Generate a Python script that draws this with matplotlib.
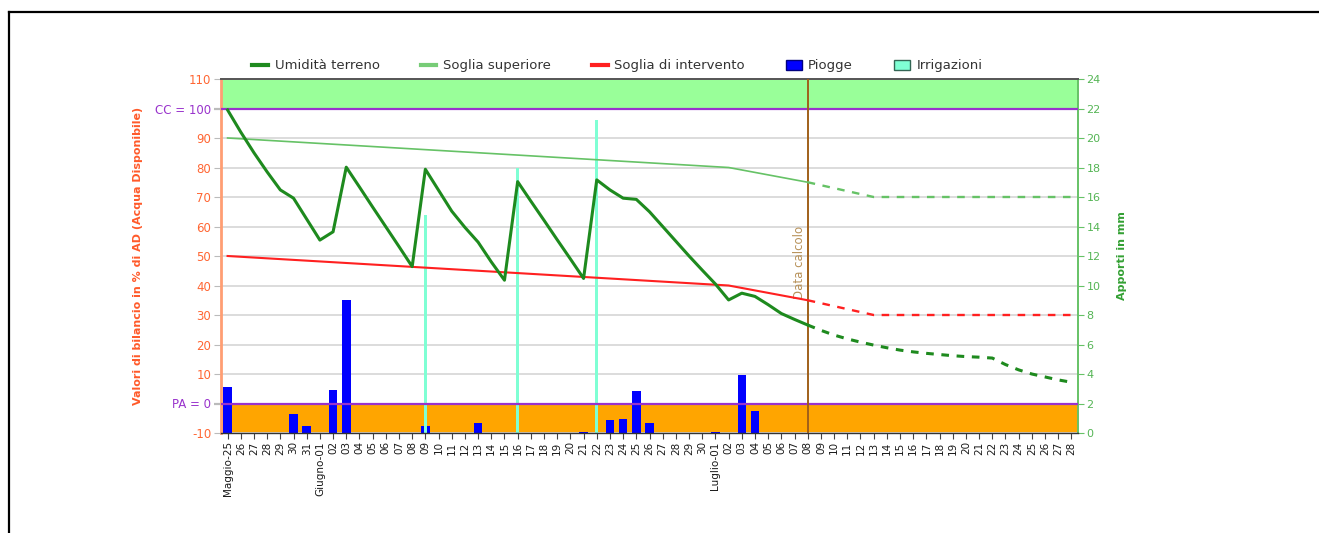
import matplotlib
matplotlib.use("Agg")
import matplotlib.pyplot as plt
from matplotlib.lines import Line2D
from matplotlib.patches import Patch, Rectangle
from matplotlib.transforms import blended_transform_factory

# ---------------- data ----------------
date_labels = ["Maggio-25", "26", "27", "28", "29", "30", "31",
               "Giugno-01", "02", "03", "04", "05", "06", "07", "08", "09", "10",
               "11", "12", "13", "14", "15", "16", "17", "18", "19", "20",
               "21", "22", "23", "24", "25", "26", "27", "28", "29", "30",
               "Luglio-01", "02", "03", "04", "05", "06", "07", "08", "09", "10",
               "11", "12", "13", "14", "15", "16", "17", "18", "19", "20",
               "21", "22", "23", "24", "25", "26", "27", "28"]

# soil moisture (% AD), observed up to "Data calcolo" then forecast
umidita = [99.5, 92, 85, 78.5, 72.4, 69.6, 62.5, 55.4, 58.2, 80.1,
           73.4, 66.6, 59.9, 53.2, 46.4, 79.4, 72.3, 65.2, 59.7, 54.7,
           48.0, 41.8, 75.2, 68.6, 62.1, 55.5, 49.0, 42.4, 75.8, 72.4,
           69.6, 69.2, 65.0, 60.0, 55.0, 50.0, 45.2, 40.5, 35.1, 37.4,
           36.3, 33.5, 30.5, 28.5, 26.6,
           24.8, 23.2, 21.9, 20.8, 19.8, 18.9, 18.1, 17.5, 17.0, 16.6,
           16.2, 15.9, 15.7, 15.4, 13.2, 11.4, 10.0, 9.0, 8.0, 7.2]

# thresholds: break-point day index and value
soglia_sup_day = [0, 38, 44, 49, 64]
soglia_sup_val = [90, 80, 75, 70, 70]
soglia_int_day = [0, 38, 44, 49, 64]
soglia_int_val = [50, 40, 35, 30, 30]

data_calcolo = 44   # index of "Data calcolo" (08 Luglio)

# rain and irrigation in mm per day
piogge = [3.1, 0, 0, 0, 0, 1.3, 0.45, 0, 2.9, 9.0,
          0, 0, 0, 0, 0, 0.45, 0, 0, 0, 0.7,
          0, 0, 0, 0, 0, 0, 0, 0.1, 0, 0.9,
          0.95, 2.85, 0.7, 0, 0, 0, 0, 0.1, 0, 3.95,
          1.5, 0, 0, 0, 0, 0, 0, 0, 0, 0,
          0, 0, 0, 0, 0, 0, 0, 0, 0, 0,
          0, 0, 0, 0, 0]
irr_days = [15, 22, 28]
irr_mm = [14.8, 18.0, 21.2]
irrigazioni = [0] * len(date_labels)
for d, v in zip(irr_days, irr_mm):
    irrigazioni[d] = v

CC = 100
PA = 0
left_ticks = list(range(-10, 111, 10))
right_ticks = list(range(0, 25, 2))

# ---------------- figure ----------------
fig = plt.figure(figsize=(13.19, 5.33), dpi=100)
W, H = 1319, 533
ax_mm = fig.add_axes([221 / W, 1 - 433 / H, (1078 - 221) / W, (433 - 79) / H])
ax_pct = ax_mm.twinx()

x = list(range(len(date_labels)))
ax_mm.set_xlim(-0.5, len(date_labels) - 0.5)
ax_mm.set_ylim(0, 24)
ax_pct.set_ylim(-10, 110)

ax_mm.yaxis.tick_right()
ax_mm.yaxis.set_label_position('right')
ax_pct.yaxis.tick_left()
ax_pct.yaxis.set_label_position('left')

# background bands (percent scale)
btr = blended_transform_factory(ax_mm.transAxes, ax_pct.transData)
ax_mm.add_patch(Rectangle((0, CC), 1, 110 - CC, transform=btr,
                          facecolor='#99FF99', edgecolor='none', zorder=0.2))
ax_mm.add_patch(Rectangle((0, -10), 1, PA + 10, transform=btr,
                          facecolor='#FFA500', edgecolor='none', zorder=0.2))

# grid
ax_mm.set_axisbelow(True)
ax_mm.set_yticks(right_ticks)
ax_mm.yaxis.grid(True, color='#D9D9D9', lw=1.3)

# bars
ax_mm.bar(x, piogge, width=0.65, color='#0000FF', zorder=2)
ax_mm.bar(x, irrigazioni, width=0.25, color='#7FFFD4', zorder=2)

# purple reference lines
ax_pct.axhline(CC, color='#9933CC', lw=1.6, zorder=3)
ax_pct.axhline(PA, color='#9933CC', lw=1.6, zorder=3)

# data calcolo
ax_pct.axvline(data_calcolo, color='#A0601A', lw=1.4, zorder=3)
ax_pct.text(data_calcolo - 0.12, 35.5, 'Data calcolo', rotation=90,
            ha='right', va='bottom', color='#B8925A', fontsize=8.5, zorder=3)

# thresholds
def split_pts(days, vals, cut):
    solid = [(d, v) for d, v in zip(days, vals) if d <= cut]
    dash = [(d, v) for d, v in zip(days, vals) if d >= cut]
    return solid, dash

for days, vals, col, lw in [(soglia_sup_day, soglia_sup_val, '#66C266', 1.2),
                            (soglia_int_day, soglia_int_val, '#FF2020', 1.5)]:
    s, d = split_pts(days, vals, data_calcolo)
    ax_pct.plot([p[0] for p in s], [p[1] for p in s], color=col, lw=lw, zorder=4)
    ax_pct.plot([p[0] for p in d], [p[1] for p in d], color=col, lw=1.7,
                dashes=(3.2, 3.2), zorder=4)

ax_pct.plot(x[:data_calcolo + 1], umidita[:data_calcolo + 1], color='#1E8A1E',
            lw=2.2, zorder=5, solid_joinstyle='round')
ax_pct.plot(x[data_calcolo:], umidita[data_calcolo:], color='#1E8A1E',
            lw=2.2, dashes=(2.5, 2.5), zorder=5)

# ---------------- axes styling ----------------
for sp in ax_mm.spines.values():
    sp.set_visible(False)
ax_pct.spines['left'].set_color('#FF9E73')
ax_pct.spines['left'].set_linewidth(2.0)
ax_pct.spines['right'].set_color('#66C266')
ax_pct.spines['right'].set_linewidth(1.4)
ax_pct.spines['top'].set_color('#555555')
ax_pct.spines['top'].set_linewidth(1.4)
ax_pct.spines['bottom'].set_color('#333333')
ax_pct.spines['bottom'].set_linewidth(1.0)

ax_mm.set_xticks(x)
ax_mm.set_xticklabels(date_labels, rotation=90, fontsize=7.5, color='#1A1A1A')
ax_mm.tick_params(axis='x', length=4, width=0.8, color='#444444', pad=2)

ax_mm.tick_params(axis='y', labelsize=8, labelcolor='#55B555', color='#66C266',
                  length=4, pad=2)
ax_mm.set_ylabel('Apporti in mm', color='#33A033', fontsize=8, fontweight='bold',
                 labelpad=12)

left_labels = []
for t in left_ticks:
    if t == CC:
        left_labels.append('CC = 100')
    elif t == PA:
        left_labels.append('PA = 0')
    else:
        left_labels.append(str(t))
ax_pct.set_yticks(left_ticks)
ax_pct.set_yticklabels(left_labels)
ax_pct.tick_params(axis='y', labelsize=8.5, labelcolor='#FF6633', color='#BBBBBB',
                   length=5, pad=2)
for t, lab, tk in zip(left_ticks, ax_pct.get_yticklabels(), ax_pct.yaxis.get_major_ticks()):
    if t in (CC, PA):
        lab.set_color('#9933CC')
        tk.tick1line.set_color('#9933CC')
        tk.tick1line.set_markeredgewidth(1.6)
ax_pct.set_ylabel('Valori di bilancio in % di AD (Acqua Disponibile)', color='#FF5A2A',
                  fontsize=8, fontweight='bold', labelpad=9)

# legend
handles = [Line2D([0], [0], color='#1E8A1E', lw=3),
           Line2D([0], [0], color='#77CC77', lw=3),
           Line2D([0], [0], color='#FF2020', lw=3),
           Patch(facecolor='#0000FF', edgecolor='#000080'),
           Patch(facecolor='#7FFFD4', edgecolor='#336655')]
labels = ['Umidità terreno', 'Soglia superiore', 'Soglia di intervento', 'Piogge', 'Irrigazioni']
fig.legend(handles, labels, loc='center', bbox_to_anchor=(0.468, 1 - 66 / H), ncol=5,
           frameon=False, fontsize=9.5, handlelength=1.2, handleheight=0.8,
           columnspacing=3.1, handletextpad=0.5, labelcolor='#333333')

# outer frame (top and left edges visible)
fig.add_artist(Line2D([8.5 / W, 8.5 / W], [0, 1 - 12 / H], transform=fig.transFigure,
                      color='black', lw=1.6))
fig.add_artist(Line2D([8.5 / W, 1], [1 - 12 / H, 1 - 12 / H], transform=fig.transFigure,
                      color='black', lw=1.6))

fig.savefig('out.png', dpi=100)
